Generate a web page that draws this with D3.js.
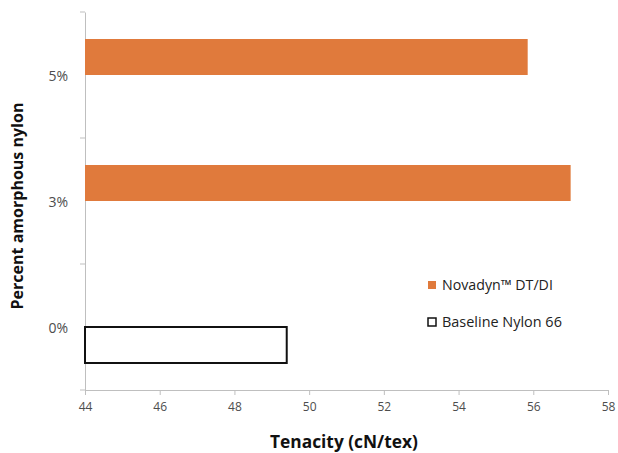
<!DOCTYPE html>
<html><head><meta charset="utf-8">
<script src="https://cdn.jsdelivr.net/npm/d3@7"></script>
<style>body{margin:0;background:#fff}svg text{font-family:"Open Sans",Lato,sans-serif}</style>
</head><body><svg id="c" width="618" height="453"></svg>
<script>
const categories = ["5%", "3%", "0%"];
const seriesNames = ["Novadyn™ DT/DI", "Baseline Nylon 66"];
const novadyn = [55.85, 57.0, null];
const baseline = [null, null, 49.4];
const xTicks = [44, 46, 48, 50, 52, 54, 56, 58];

const svg = d3.select("#c");
const m = {l: 85, t: 12};
const x = d3.scaleLinear().domain([44, 58]).range([m.l, 608]);
const y = d3.scaleBand().domain(categories).range([m.t, 390]).padding(0);
const bh = y.bandwidth() / 3.5;
const off = y.bandwidth() * 0.75 / 3.5;

const rows = categories.map((c, i) => ({c, n: novadyn[i], b: baseline[i]}));

function fit(sel, target) {
  const w = sel.node().getComputedTextLength();
  const fs = parseFloat(sel.style("font-size"));
  sel.style("font-size", (fs * target / w) + "px");
}

// axes
const gx = svg.append("g").attr("transform", `translate(0,390)`)
  .call(d3.axisBottom(x).tickValues(xTicks).tickSize(5).tickPadding(7));
gx.select(".domain").attr("stroke", "#bfbfbf");
gx.selectAll(".tick line").attr("stroke", "#bfbfbf");
gx.selectAll(".tick text").attr("fill", "#4d4d4d").style("font-size", "12px").style("font-family", "'Open Sans'");

const gy = svg.append("g").attr("transform", `translate(${m.l},0)`)
  .call(d3.axisLeft(y).tickSize(0).tickPadding(17));
gy.select(".domain").attr("stroke", "#bfbfbf");
gy.selectAll(".tick text").attr("fill", "#4d4d4d").style("font-size", "14px").style("font-family", "'Open Sans'").attr("dy", "0.4em");
const bounds = [m.t].concat(categories.map(c => y(c) + y.bandwidth()));
svg.append("g").selectAll("line").data(bounds).join("line")
  .attr("x1", m.l - 5).attr("x2", m.l).attr("y1", d => d).attr("y2", d => d)
  .attr("stroke", "#bfbfbf");

// bars
svg.append("g").selectAll("rect").data(rows.filter(r => r.n != null)).join("rect")
  .attr("x", x(44)).attr("y", r => y(r.c) + off).attr("height", bh)
  .attr("width", r => x(r.n) - x(44)).attr("fill", "#e07a3c");
svg.append("g").selectAll("rect").data(rows.filter(r => r.b != null)).join("rect")
  .attr("x", x(44)).attr("y", r => y(r.c) + off + bh).attr("height", bh)
  .attr("width", r => x(r.b) - x(44)).attr("fill", "#fff").attr("stroke", "#111").attr("stroke-width", 2);

// titles
const xt = svg.append("text").attr("x", 344).attr("y", 448).attr("text-anchor", "middle")
  .style("font-size", "15px").style("font-weight", "bold").attr("fill", "#111").text("Tenacity (cN/tex)");
fit(xt, 148);
const yt = svg.append("text").attr("transform", "translate(23,206) rotate(-90)").attr("text-anchor", "middle")
  .style("font-size", "15px").style("font-weight", "bold").attr("fill", "#111").text("Percent amorphous nylon");
fit(yt, 207);

// legend
const lg = svg.append("g");
lg.append("rect").attr("x", 428).attr("y", 281).attr("width", 8).attr("height", 8).attr("fill", "#e07a3c");
lg.append("rect").attr("x", 428).attr("y", 318).attr("width", 8).attr("height", 8).attr("fill", "#fff").attr("stroke", "#111").attr("stroke-width", 1.5);
const targets = [111, 120];
lg.selectAll("text").data(seriesNames).join("text")
  .attr("x", 442).attr("y", (d, i) => 285 + i * 37).attr("dy", "0.35em")
  .style("font-size", "13px").attr("fill", "#222").text(d => d)
  .each(function(d, i) { fit(d3.select(this), targets[i]); });
</script></body></html>
